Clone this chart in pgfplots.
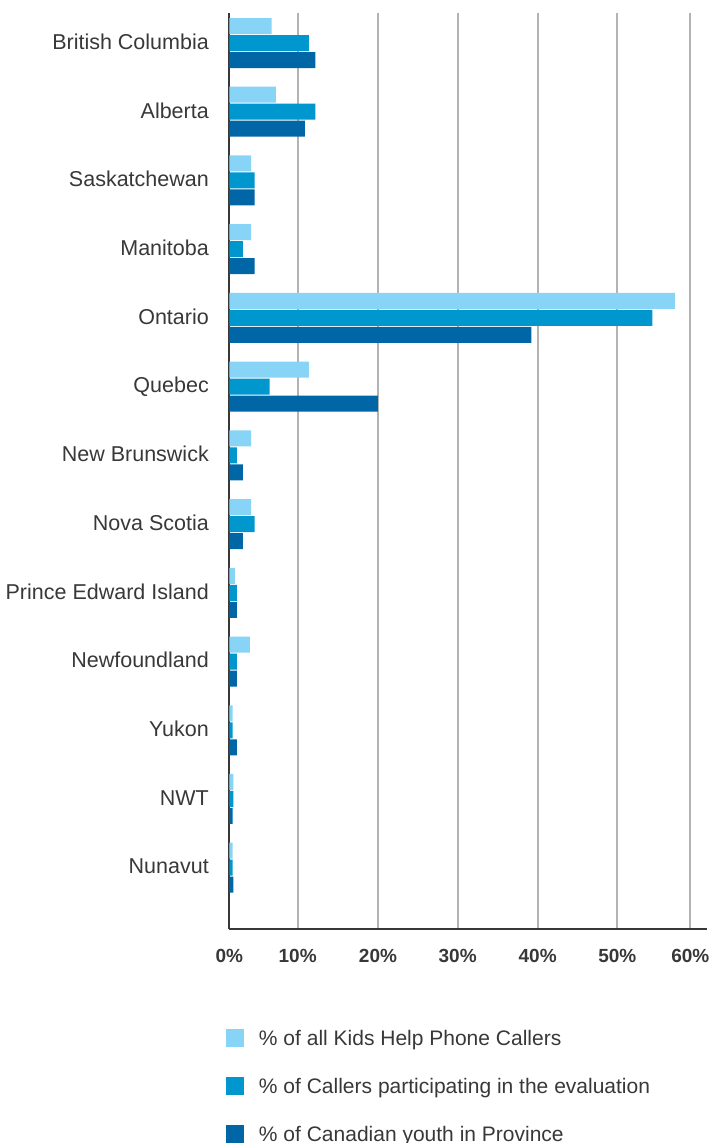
\documentclass[border=0pt]{standalone}
\usepackage{fontspec}
\setmainfont{Liberation Sans}
\usepackage{pgfplots}
\pgfplotsset{compat=1.18}
\definecolor{cL}{HTML}{88D4F7}
\definecolor{cM}{HTML}{0096CE}
\definecolor{cD}{HTML}{0066A6}
\definecolor{txt}{HTML}{383838}
\definecolor{grd}{HTML}{B3B3B3}
\begin{document}
\begin{tikzpicture}
\path[use as bounding box] (0,0) rectangle (712pt,1143pt);
\begin{axis}[
  at={(229.3pt,214pt)}, anchor=south west,
  scale only axis, width=477.7pt, height=916pt,
  x coord trafo/.code={\pgfmathparse{#1<10 ? #1*6.84 : (#1<20 ? 68.4+(#1-10)*8.03 : (#1<30 ? 148.7+(#1-20)*7.97 : (#1<40 ? 228.4+(#1-30)*8.0 : (#1<50 ? 308.4+(#1-40)*7.96 : 388+(#1-50)*7.3))))}},
  xmin=0, xmax=62.29, ymin=-0.892, ymax=12.437,
  xbar, bar width=16pt,
  axis x line=bottom, axis y line=left,
  axis line style={-, draw=txt, line width=2pt},
  xtick={0,10,20,30,40,50,60},
  xticklabels={0\%,10\%,20\%,30\%,40\%,50\%,60\%},
  xmajorgrids, grid style={draw=grd, line width=2pt},
  ytick={0,1,2,3,4,5,6,7,8,9,10,11,12},
  yticklabels={Nunavut,NWT,Yukon,Newfoundland,Prince Edward Island,Nova Scotia,New Brunswick,Quebec,Ontario,Manitoba,Saskatchewan,Alberta,British Columbia},
  major tick length=0pt,
  xticklabel style={font=\bfseries\fontsize{19}{19}\selectfont, text=txt, anchor=base, yshift=-33.7pt},
  yticklabel style={font=\fontsize{21.5}{21.5}\selectfont, text=txt, anchor=base east, inner sep=0pt, xshift=-20.3pt, yshift=-6.3pt},
  legend style={at={(0,0)}, anchor=north west, xshift=-3.3pt, yshift=-100pt,
    draw=none, fill=none, inner sep=0pt, outer sep=0pt, row sep=26pt, column sep=15pt,
    font=\fontsize{21}{21}\selectfont, text=txt,
    nodes={inner sep=0pt, text height=16pt, text depth=5pt}},
  legend cell align=left,
  legend image code/.code={\fill[#1, draw=none] (0pt,-6.7pt) rectangle (18pt,11.3pt);},
]
\addplot[fill=cL, draw=none, bar shift=17pt] coordinates {
 (6.2,12) (6.8,11) (3.2,10) (3.2,9) (57.9,8) (11.4,7) (3.2,6) (3.2,5) (0.8,4) (3.0,3) (0.5,2) (0.6,1) (0.5,0)};
\addplot[fill=cM, draw=none, bar shift=0pt] coordinates {
 (11.4,12) (12.2,11) (3.7,10) (2.0,9) (54.8,8) (5.9,7) (1.1,6) (3.7,5) (1.1,4) (1.1,3) (0.5,2) (0.6,1) (0.5,0)};
\addplot[fill=cD, draw=none, bar shift=-17pt] coordinates {
 (12.2,12) (10.9,11) (3.7,10) (3.7,9) (39.2,8) (20.0,7) (2.0,6) (2.0,5) (1.1,4) (1.1,3) (1.1,2) (0.5,1) (0.6,0)};
\legend{\% of all Kids Help Phone Callers,\% of Callers participating in the evaluation,\% of Canadian youth in Province}
\end{axis}
\end{tikzpicture}
\end{document}
